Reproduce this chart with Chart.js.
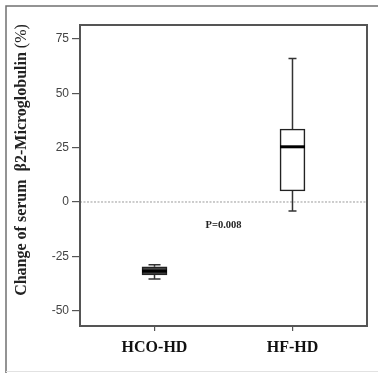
<!DOCTYPE html>
<html>
<head>
<meta charset="utf-8">
<script src="https://cdn.jsdelivr.net/npm/chart.js@4.4.1/dist/chart.umd.min.js"></script>
<style>
  html, body { margin: 0; padding: 0; background: #fff; }
  #wrap { width: 378px; height: 373px; position: relative; }
</style>
</head>
<body>
<div id="wrap"><canvas id="myChart"></canvas></div>
<script>
// box plot values (change of serum b2-microglobulin, %)
const groups = ["HCO-HD", "HF-HD"];
const mins = [-35.4, -4.1];
const q1s = [-33.6, 5.1];
const medians = [-31.8, 25.4];
const q3s = [-29.8, 33.6];
const maxs = [-28.9, 66];
const yTicks = [-50, -25, 0, 25, 50, 75];
const pText = "P=0.008";

const ctx = document.getElementById("myChart");

// whiskers, medians, zero line, frame and labels
const boxExtras = {
  id: "boxExtras",
  beforeDraw(chart) {
    const c = chart.ctx;
    c.save();
    c.fillStyle = "#fff";
    c.fillRect(0, 0, chart.width, chart.height);
    // outer frame
    c.strokeStyle = "#707070";
    c.lineWidth = 1.5;
    c.beginPath();
    c.moveTo(6, chart.height);
    c.lineTo(6, 6);
    c.lineTo(chart.width, 6);
    c.stroke();
    c.strokeStyle = "#e2e2e2";
    c.lineWidth = 1;
    c.beginPath();
    c.moveTo(6, 371.5);
    c.lineTo(chart.width, 371.5);
    c.stroke();
    c.restore();
  },
  afterDatasetsDraw(chart) {
    const c = chart.ctx;
    const x = chart.scales.x;
    const y = chart.scales.y;
    const area = chart.chartArea;
    c.save();
    // dashed zero line
    c.strokeStyle = "#9a9a9a";
    c.lineWidth = 1;
    c.setLineDash([2, 1.5]);
    c.beginPath();
    c.moveTo(area.left, y.getPixelForValue(0));
    c.lineTo(area.right, y.getPixelForValue(0));
    c.stroke();
    c.setLineDash([]);

    groups.forEach((g, i) => {
      const px = x.getPixelForValue(i + 1);
      const capW = i === 0 ? 6 : 4;
      c.strokeStyle = "#333";
      c.lineWidth = 1.5;
      c.beginPath();
      c.moveTo(px, y.getPixelForValue(q3s[i]));
      c.lineTo(px, y.getPixelForValue(maxs[i]));
      c.moveTo(px - capW, y.getPixelForValue(maxs[i]));
      c.lineTo(px + capW, y.getPixelForValue(maxs[i]));
      c.moveTo(px, y.getPixelForValue(q1s[i]));
      c.lineTo(px, y.getPixelForValue(mins[i]));
      c.moveTo(px - capW, y.getPixelForValue(mins[i]));
      c.lineTo(px + capW, y.getPixelForValue(mins[i]));
      c.stroke();
      // median
      const meta = chart.getDatasetMeta(0).data[i];
      c.strokeStyle = "#000";
      c.lineWidth = 3;
      c.beginPath();
      c.moveTo(meta.x - meta.width / 2, y.getPixelForValue(medians[i]));
      c.lineTo(meta.x + meta.width / 2, y.getPixelForValue(medians[i]));
      c.stroke();
    });

    // p value
    c.fillStyle = "#222";
    c.font = "bold 10.5px 'Liberation Serif'";
    c.textAlign = "center";
    c.textBaseline = "middle";
    c.fillText(pText, x.getPixelForValue(1.5), y.getPixelForValue(-10.5));

    // plot frame
    c.strokeStyle = "#555";
    c.lineWidth = 2;
    c.strokeRect(area.left, area.top, area.right - area.left, area.bottom - area.top);

    // y title
    c.translate(22, 160);
    c.rotate(-Math.PI / 2);
    c.fillStyle = "#222";
    c.textBaseline = "middle";
    c.textAlign = "left";
    const t1 = "Change of serum  \u03b22-Microglobulin ";
    const t2 = "(%)";
    c.font = "bold 16px 'Liberation Serif'";
    const w1 = c.measureText(t1).width;
    c.font = "16px 'Liberation Serif'";
    const w2 = c.measureText(t2).width;
    const start = -(w1 + w2) / 2;
    c.font = "bold 16px 'Liberation Serif'";
    c.fillText(t1, start, 0);
    c.font = "16px 'Liberation Serif'";
    c.fillText(t2, start + w1, 0);
    c.restore();
  }
};

new Chart(ctx, {
  type: "bar",
  data: {
    datasets: [
      {
        data: groups.map((g, i) => ({ x: i + 1, y: [q1s[i], q3s[i]] })),
        backgroundColor: ["#444", "#fff"],
        borderColor: "#222",
        borderWidth: 1.6,
        borderSkipped: false,
        barThickness: 25
      }
    ]
  },
  options: {
    responsive: true,
    maintainAspectRatio: false,
    animation: false,
    layout: { padding: { top: 25, right: 11, left: 0, bottom: 0 } },
    plugins: { legend: { display: false }, tooltip: { enabled: false } },
    scales: {
      x: {
        type: "linear",
        min: 0.46,
        max: 2.54,
        offset: false,
        afterBuildTicks: (s) => { s.ticks = groups.map((g, i) => ({ value: i + 1 })); },
        afterFit: (s) => { s.height = 47; },
        grid: { drawOnChartArea: false, offset: false, tickLength: 5, color: "#555", lineWidth: 1.2 },
        border: { display: true, color: "#555", width: 2 },
        ticks: {
          padding: 7,
          color: "#111",
          font: { family: "'Liberation Serif'", size: 16, weight: "bold" },
          callback: (v) => groups[v - 1]
        }
      },
      y: {
        min: -57.06,
        max: 81.44,
        afterBuildTicks: (s) => { s.ticks = yTicks.map((v) => ({ value: v })); },
        afterFit: (s) => { s.width = 80; },
        grid: { drawOnChartArea: false, tickLength: 8, color: "#555", lineWidth: 1.2 },
        border: { display: true, color: "#555", width: 2 },
        ticks: {
          padding: 3,
          color: "#444",
          font: { family: "'Liberation Sans'", size: 12 }
        }
      }
    }
  },
  plugins: [boxExtras]
});
</script>
</body>
</html>
